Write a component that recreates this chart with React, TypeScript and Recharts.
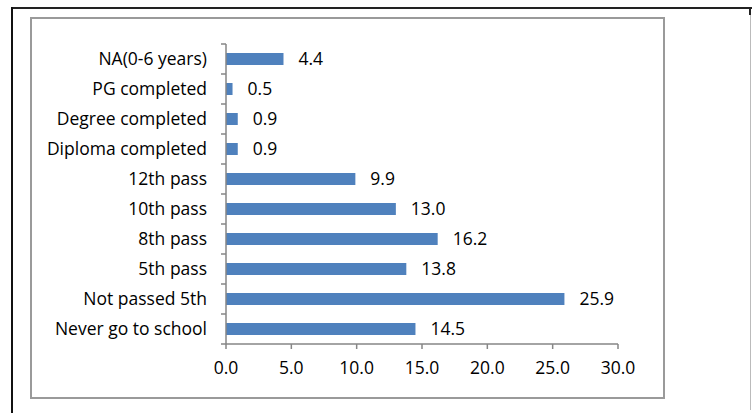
import React from "react";
import { BarChart, Bar, XAxis, YAxis, LabelList } from "recharts";

const categories = [
  "NA(0-6 years)",
  "PG completed",
  "Degree completed",
  "Diploma completed",
  "12th pass",
  "10th pass",
  "8th pass",
  "5th pass",
  "Not passed 5th",
  "Never go to school",
];
const values = [4.4, 0.5, 0.9, 0.9, 9.9, 13.0, 16.2, 13.8, 25.9, 14.5];
const xTicks = [0, 5, 10, 15, 20, 25, 30];

const data = categories.map((c, i) => ({ name: c, value: values[i] }));

const FONT = "'Open Sans', sans-serif";
const AXIS = "#868686";
const FS = 17.5;

const CHART_H = 380;
const M_TOP = 27;
const M_BOTTOM = 23;
const X_AXIS_H = 30;
const BAND = (CHART_H - M_TOP - M_BOTTOM - X_AXIS_H) / categories.length;

function CategoryTick(props: any) {
  const { x, y, payload, index } = props;
  const half = BAND / 2;
  const last = index === categories.length - 1;
  return (
    <g>
      <line x1={x - 5} x2={x} y1={y - half} y2={y - half} stroke={AXIS} strokeWidth={1.5} />
      {last && (
        <line x1={x - 5} x2={x} y1={y + half} y2={y + half} stroke={AXIS} strokeWidth={1.5} />
      )}
      <text
        x={x - 19}
        y={y}
        dy="0.355em"
        textAnchor="end"
        fill="#000"
        fontSize={FS}
        fontFamily={FONT}
      >
        {payload.value}
      </text>
    </g>
  );
}

export default function App() {
  return (
    <div
      style={{
        position: "absolute",
        left: 0,
        top: 0,
        width: 752,
        height: 413,
        background: "#fff",
        overflow: "hidden",
        fontFamily: FONT,
      }}
    >
      {/* outer frame */}
      <div style={{ position: "absolute", left: 12, top: 7, width: 740, height: 2, background: "#222" }} />
      <div style={{ position: "absolute", left: 11, top: 7, width: 2, height: 406, background: "#111" }} />
      <div style={{ position: "absolute", left: 749, top: 7, width: 2, height: 8, background: "#222" }} />
      <div style={{ position: "absolute", left: 750, top: 15, width: 1, height: 395, background: "#bbb" }} />
      {/* inner chart frame */}
      <div
        style={{
          position: "absolute",
          left: 30,
          top: 17,
          width: 631,
          height: 378,
          border: "2px solid #9a9a9a",
          boxSizing: "content-box",
        }}
      />
      <div style={{ position: "absolute", left: 30, top: 17 }}>
        <BarChart
          width={633}
          height={CHART_H}
          data={data}
          layout="vertical"
          margin={{ top: M_TOP, right: 45, left: 0, bottom: M_BOTTOM }}
        >
          <XAxis
            type="number"
            domain={[0, 30]}
            ticks={xTicks}
            interval={0}
            height={X_AXIS_H}
            tickFormatter={(v: number) => v.toFixed(1)}
            axisLine={{ stroke: AXIS, strokeWidth: 1.5 }}
            tickLine={{ stroke: AXIS, strokeWidth: 1.5 }}
            tickSize={5}
            tickMargin={13}
            tick={{ fill: "#000", fontSize: FS, fontFamily: FONT }}
          />
          <YAxis
            type="category"
            dataKey="name"
            width={196}
            interval={0}
            axisLine={{ stroke: AXIS, strokeWidth: 1.5 }}
            tickLine={false}
            tickSize={0}
            tickMargin={0}
            tick={<CategoryTick />}
          />
          <Bar dataKey="value" fill="#4F81BD" barSize={12} isAnimationActive={false}>
            <LabelList
              dataKey="value"
              position="right"
              offset={15}
              formatter={(v: number) => Number(v).toFixed(1)}
              style={{ fill: "#000", fontSize: FS, fontFamily: FONT }}
            />
          </Bar>
        </BarChart>
      </div>
    </div>
  );
}
